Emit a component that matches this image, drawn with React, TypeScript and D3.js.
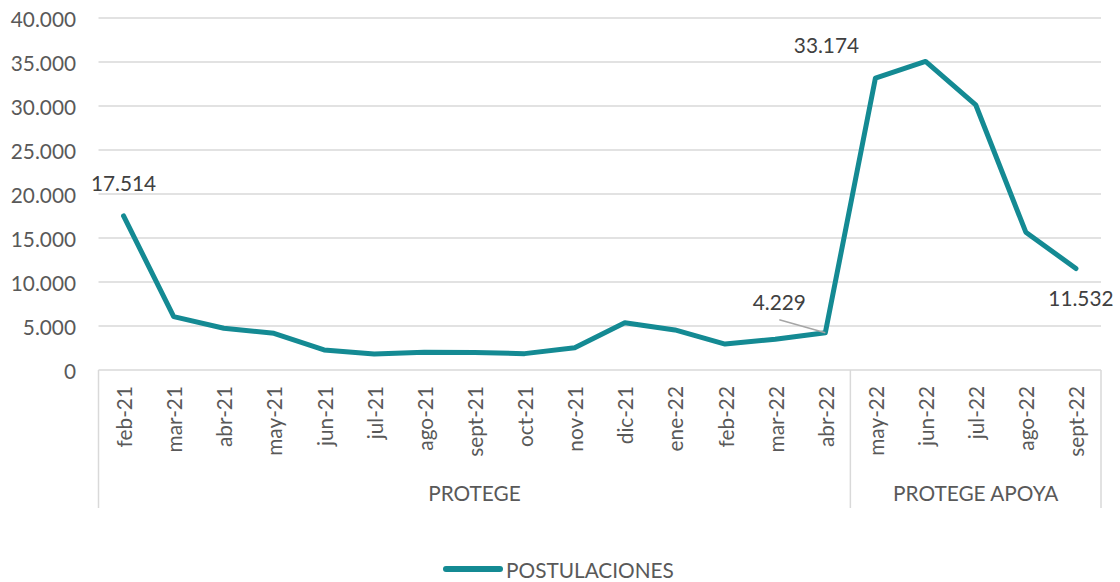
import * as d3 from "d3";
import { useEffect, useRef } from "react";

const months = [
  "feb-21", "mar-21", "abr-21", "may-21", "jun-21", "jul-21", "ago-21",
  "sept-21", "oct-21", "nov-21", "dic-21", "ene-22", "feb-22", "mar-22",
  "abr-22", "may-22", "jun-22", "jul-22", "ago-22", "sept-22",
];
const postulaciones = [
  17514, 6070, 4740, 4170, 2280, 1820, 2010, 2000, 1860, 2540, 5380, 4550,
  2950, 3490, 4229, 33174, 35060, 30140, 15660, 11532,
];
const groupNames = ["PROTEGE", "PROTEGE APOYA"];
const groupSizes = [15, 5];
const yTickValues = [0, 5000, 10000, 15000, 20000, 25000, 30000, 35000, 40000];
const seriesName = "POSTULACIONES";

const W = 1120;
const H = 582;
const FONT = "Lato, 'Open Sans', sans-serif";
const FS = 20.8;
const LINE = "#148a93";
const AXIS_TEXT = "#595959";
const LABEL_TEXT = "#404040";
const GRID = "#d9d9d9";

// data-label placement relative to the point (index -> offset)
const labelPlacement: Record<number, { dx: number; dy: number; leader?: boolean }> = {
  0: { dx: 0, dy: -25 },
  14: { dx: -46, dy: -23, leader: true },
  15: { dx: -49, dy: -25 },
  19: { dx: 5, dy: 37 },
};

const fmt = d3
  .formatLocale({ decimal: ",", thousands: ".", grouping: [3], currency: ["", ""] })
  .format(",d");

export default function App() {
  const ref = useRef<SVGSVGElement>(null);

  useEffect(() => {
    const svg = d3.select(ref.current);
    svg.selectAll("*").remove();

    const x = d3.scaleBand<string>().domain(months).range([98.5, 1101]);
    const y = d3.scaleLinear().domain([0, 40000]).range([370, 18]);
    const cx = (m: string) => (x(m) ?? 0) + x.bandwidth() / 2;

    // gridlines
    svg
      .append("g")
      .selectAll("line")
      .data(yTickValues)
      .join("line")
      .attr("x1", 98.5)
      .attr("x2", 1101)
      .attr("y1", (d) => y(d))
      .attr("y2", (d) => y(d))
      .attr("stroke", GRID)
      .attr("stroke-width", 1.5);

    // y tick labels
    svg
      .append("g")
      .selectAll("text")
      .data(yTickValues)
      .join("text")
      .attr("x", 76)
      .attr("y", (d) => y(d))
      .attr("text-anchor", "end")
      .attr("dominant-baseline", "central")
      .attr("fill", AXIS_TEXT)
      .style("font", `${FS}px ${FONT}`)
      .text((d) => fmt(d));

    // multi-level category box: separators
    const bounds = [0];
    groupSizes.forEach((s, i) => bounds.push(bounds[i] + s));
    const boundX = bounds.map((b) =>
      b < months.length ? x(months[b]) ?? 0 : (x(months[months.length - 1]) ?? 0) + x.bandwidth(),
    );
    svg
      .append("g")
      .selectAll("line")
      .data(boundX)
      .join("line")
      .attr("x1", (d) => d)
      .attr("x2", (d) => d)
      .attr("y1", 370)
      .attr("y2", 508)
      .attr("stroke", GRID)
      .attr("stroke-width", 1.5);

    // month labels, rotated
    svg
      .append("g")
      .selectAll("text")
      .data(months)
      .join("text")
      .attr("transform", (d) => `translate(${cx(d)},386) rotate(-90)`)
      .attr("text-anchor", "end")
      .attr("dominant-baseline", "central")
      .attr("fill", AXIS_TEXT)
      .style("font", `${FS}px ${FONT}`)
      .text((d) => d);

    // group labels
    svg
      .append("g")
      .selectAll("text")
      .data(groupNames)
      .join("text")
      .attr("x", (_, i) => (boundX[i] + boundX[i + 1]) / 2)
      .attr("y", 492)
      .attr("text-anchor", "middle")
      .attr("dominant-baseline", "central")
      .attr("fill", AXIS_TEXT)
      .style("font", `${FS}px ${FONT}`)
      .text((d) => d);

    // series line
    const line = d3
      .line<number>()
      .x((_, i) => cx(months[i]))
      .y((d) => y(d));
    svg
      .append("path")
      .datum(postulaciones)
      .attr("d", line)
      .attr("fill", "none")
      .attr("stroke", LINE)
      .attr("stroke-width", 5)
      .attr("stroke-linejoin", "round")
      .attr("stroke-linecap", "round");

    // data labels
    Object.entries(labelPlacement).forEach(([k, p]) => {
      const i = +k;
      const px = cx(months[i]);
      const py = y(postulaciones[i]);
      if (p.leader)
        svg
          .append("line")
          .attr("x1", px + p.dx)
          .attr("y1", py + p.dy + 10)
          .attr("x2", px)
          .attr("y2", py)
          .attr("stroke", "#a6a6a6")
          .attr("stroke-width", 1.5);
      svg
        .append("text")
        .attr("x", px + p.dx)
        .attr("y", py + p.dy)
        .attr("text-anchor", "middle")
        .attr("fill", LABEL_TEXT)
        .style("font", `${FS}px ${FONT}`)
        .text(fmt(postulaciones[i]));
    });

    // legend
    const lg = svg.append("g").attr("transform", "translate(446,569)");
    lg.append("line")
      .attr("x1", 0)
      .attr("x2", 54)
      .attr("stroke", LINE)
      .attr("stroke-width", 6)
      .attr("stroke-linecap", "round");
    lg.append("text")
      .attr("x", 60)
      .attr("dominant-baseline", "central")
      .attr("fill", AXIS_TEXT)
      .style("font", `${FS}px ${FONT}`)
      .text(seriesName);
  }, []);

  return (
    <svg
      ref={ref}
      width={W}
      height={H}
      style={{ position: "absolute", left: 0, top: 0, background: "#fff" }}
    />
  );
}
